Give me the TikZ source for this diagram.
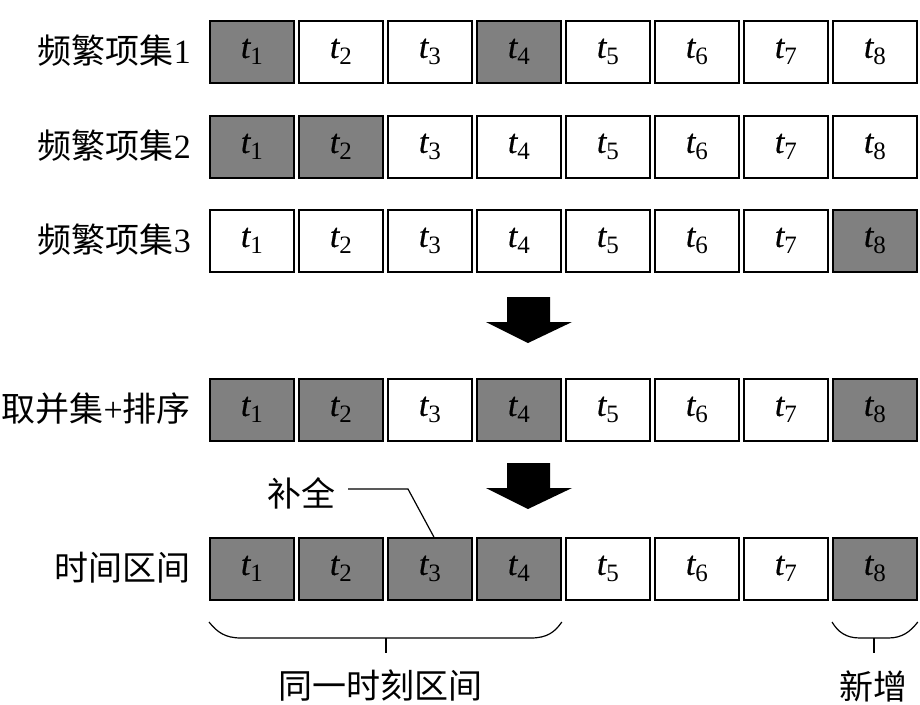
\documentclass[tikz,border=0pt]{standalone}
\usepackage{fontspec}
\setmainfont{Liberation Serif}
\newfontfamily\cjk{Noto Sans CJK SC}
\newfontfamily\tfont[FakeBold=0.6]{Liberation Serif}
\newcommand\tlab[1]{{\tfont\itshape t}\raisebox{-7pt}{\fontsize{25}{25}\selectfont #1}}
\begin{document}
\begin{tikzpicture}[x=1pt,y=-1pt,
  cell/.style={draw=black,line width=1.8pt,minimum width=84pt,minimum height=62pt,inner sep=0pt,anchor=north west,font=\fontsize{34}{34}\selectfont},
  on/.style={cell,fill=black!50},
  off/.style={cell,fill=white},
  lab/.style={font=\fontsize{34}{34}\selectfont,inner sep=0pt},
  lead/.style={line width=1.2pt},
  bigarrow/.style={fill=black}]
\useasboundingbox (0,0) rectangle (920,704);
% rows
\foreach \i/\s in {1/on,2/off,3/off,4/on,5/off,6/off,7/off,8/off}
  \node[\s] (r1b\i) at ({209+(\i-1)*89},20) {\tlab{\i}};
\foreach \i/\s in {1/on,2/on,3/off,4/off,5/off,6/off,7/off,8/off}
  \node[\s] (r2b\i) at ({209+(\i-1)*89},115) {\tlab{\i}};
\foreach \i/\s in {1/off,2/off,3/off,4/off,5/off,6/off,7/off,8/on}
  \node[\s] (r3b\i) at ({209+(\i-1)*89},209) {\tlab{\i}};
\foreach \i/\s in {1/on,2/on,3/off,4/on,5/off,6/off,7/off,8/on}
  \node[\s] (r4b\i) at ({209+(\i-1)*89},378) {\tlab{\i}};
\foreach \i/\s in {1/on,2/on,3/on,4/on,5/off,6/off,7/off,8/on}
  \node[\s] (r5b\i) at ({209+(\i-1)*89},537) {\tlab{\i}};
% left labels
\node[lab,anchor=east] (l1) at (191,51) {{\cjk 频繁项集}1};
\node[lab,anchor=east] (l2) at (191,146) {{\cjk 频繁项集}2};
\node[lab,anchor=east] (l3) at (191,240) {{\cjk 频繁项集}3};
\node[lab,anchor=east] (l4) at (191,409) {{\cjk 取并集}+{\cjk 排序}};
\node[lab,anchor=east] (l5) at (191,568) {\cjk 时间区间};
% arrows
\fill[bigarrow] (507,297) -- (550,297) -- (550,322) -- (572,322) -- (528,343) -- (486,322) -- (507,322) -- cycle;
\fill[bigarrow] (507,463) -- (550,463) -- (550,488) -- (572,488) -- (528,509) -- (486,488) -- (507,488) -- cycle;
% 补全 label
\node[lab] (bq) at (301,493) {\cjk 补全};
\coordinate (bend) at (408,489);
\draw[lead] (348,489) -- (bend) -- ([xshift=4pt]r5b3.north);
% braces
\draw[lead] (r5b1.south west |- 0,622) .. controls (217,632) and (225,638) .. (241,638)
  -- (531,638) .. controls (547,638) and (555,632) .. (r5b4.south east |- 0,622);
\coordinate (m1) at (386,638);
\draw[lead] (m1) -- (386,653);
\draw[lead] (r5b8.south west |- 0,622) .. controls (838,632) and (846,638) .. (860,638)
  -- (888,638) .. controls (902,638) and (910,632) .. (r5b8.south east |- 0,622);
\coordinate (m2) at (874,638);
\draw[lead] (m2) -- (874,653);
% bottom labels
\node[lab] (b1) at (380,686) {\cjk 同一时刻区间};
\node[lab] (b2) at (873,686) {\cjk 新增};
\end{tikzpicture}
\end{document}
